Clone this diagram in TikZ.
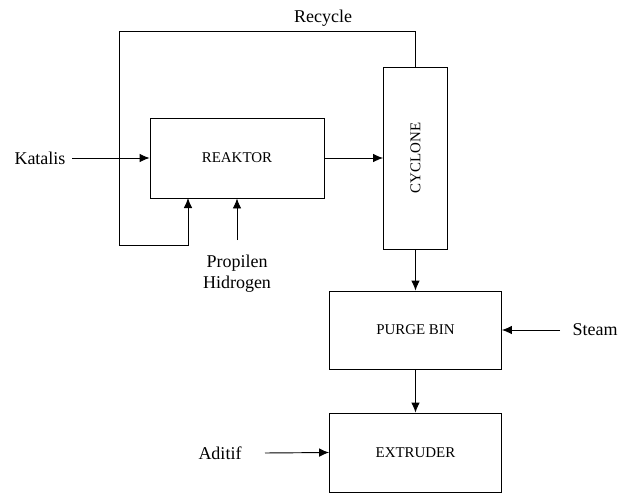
\documentclass[tikz,border=0pt]{standalone}
\usepackage{fontspec}
\setmainfont{Liberation Serif}
\usepackage{tikz}
\usetikzlibrary{arrows.meta}
\usetikzlibrary{positioning}
\tikzstyle{unit}=[rectangle,draw,inner sep=0pt,font=\fontsize{11.2}{13}\selectfont]
\tikzstyle{label}=[font=\fontsize{13.5}{16}\selectfont,align=center]
\tikzstyle{flow}=[-{Latex[length=7.5pt,width=6.5pt]}]

\begin{document}
\begin{tikzpicture}[x=0.75pt,y=-0.75pt,line width=0.7pt]
	\useasboundingbox (0,0) rectangle (619,493);
	\node[unit,minimum width=130.5pt,minimum height=60pt] (reaktor) at (237,158) {REAKTOR};
	\node[unit,minimum width=48pt,minimum height=136.5pt] (cyclone) at (415.5,158) {};
	\node[rotate=90,font=\fontsize{11.2}{13}\selectfont] (cyclonetext) at (cyclone) {CYCLONE};
	\node[unit,minimum width=129pt,minimum height=58.5pt] (purge) at (415.5,330) {PURGE BIN};
	\node[unit,minimum width=129pt,minimum height=59.25pt] (extruder) at (415.5,452.5) {EXTRUDER};
	\node[label] (katalis) at (40,158) {Katalis};
	\node[label] (steam) at (595,330) {Steam};
	\node[label] (aditif) at (220,453) {Aditif};
	\node[label] (recycle) at (323,18) {Recycle};
	\node[label] (propilen) at (237,274) {Propilen\\Hidrogen};
	\coordinate (katalisout) at (72,158);
	\coordinate (aditifout) at (265,453);
	\coordinate (steamout) at (560,330);
	\coordinate (propilenout) at (237,240);
	\coordinate (recyclein) at (188,198);
	%\node (x) at (0,0) {...};
	\draw[flow] (katalisout) -- (reaktor.west);
	\draw[flow] (propilenout) -- (reaktor.south);
	\draw[flow] (reaktor.east) -- (cyclone.west);
	\draw[flow] (cyclone.north) |- (119,31) |- (188,245) -- (recyclein);
	\draw[flow] (cyclone.south) -- (purge.north);
	\draw[flow] (steamout) -- (purge.east);
	\draw[flow] (purge.south) -- (extruder.north);
	\draw[flow] (aditifout) -- (extruder.west);
\end{tikzpicture}
\end{document}
